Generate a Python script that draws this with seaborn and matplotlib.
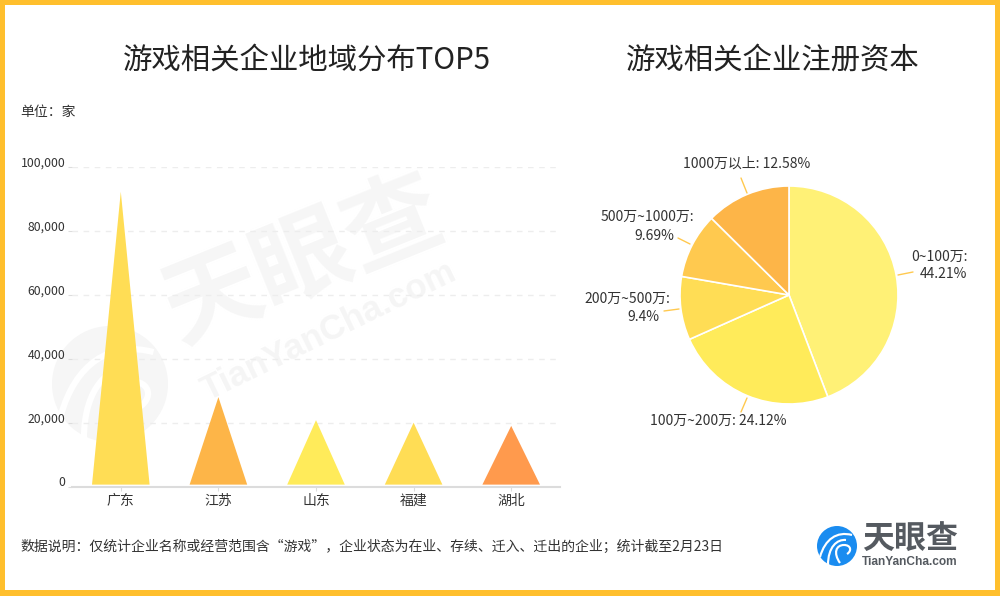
import matplotlib
matplotlib.use("Agg")
import matplotlib.pyplot as plt
import seaborn as sns
import pandas as pd
from matplotlib.patches import Polygon, Rectangle, Circle, PathPatch
from matplotlib.path import Path
from matplotlib.ticker import FuncFormatter
from matplotlib.transforms import ScaledTranslation

regions = ["广东", "江苏", "山东", "福建", "湖北"]
region_counts = [92200, 28000, 20800, 20000, 19000]
region_colors = ["#FFDD55", "#FDB548", "#FFEB5A", "#FFDD55", "#FF9A4D"]

capital_labels = ["0~100万:\n44.21%", "100万~200万: 24.12%", "200万~500万:\n9.4%",
                  "500万~1000万:\n9.69%", "1000万以上: 12.58%"]
capital_shares = [44.21, 24.12, 9.4, 9.69, 12.58]
capital_colors = ["#FFF176", "#FFEB5A", "#FFDD55", "#FFC94F", "#FDB548"]

y_ticks = [0, 20000, 40000, 60000, 80000, 100000]

sns.set_theme(style="white")
plt.rcParams["font.family"] = ["Noto Sans CJK SC", "DejaVu Sans"]
W, H = 1000, 596
fig = plt.figure(figsize=(W / 100, H / 100), dpi=100, facecolor="white")

# page overlay in pixel coordinates
bg = fig.add_axes([0, 0, 1, 1], zorder=0)
bg.set_xlim(0, W); bg.set_ylim(H, 0); bg.axis("off")
fg = fig.add_axes([0, 0, 1, 1], zorder=5)
fg.set_xlim(0, W); fg.set_ylim(H, 0); fg.axis("off"); fg.patch.set_alpha(0)


def swirl(ax, cx, cy, r, color, z=1):
    ax.add_patch(Circle((cx, cy), r, fc=color, ec="none", zorder=z))
    curves = [
        [(-0.85, 0.55), (-0.6, -0.35), (0.0, -0.75), (0.75, -0.55)],
        [(-0.45, 0.95), (-0.45, 0.05), (0.0, -0.35), (0.45, -0.30)],
        [(0.15, 0.85), (-0.20, 0.35), (-0.05, -0.05), (0.35, -0.05)],
        [(0.35, -0.05), (0.70, -0.05), (0.75, 0.25), (0.50, 0.40)],
    ]
    for c in curves:
        verts = [(cx + x * r, cy + y * r) for x, y in c]
        ax.add_patch(PathPatch(Path(verts, [Path.MOVETO, Path.CURVE4, Path.CURVE4, Path.CURVE4]),
                               fc="none", ec="white", lw=max(r / 13, 1.2), zorder=z + 0.1))


# watermark
swirl(bg, 110, 384, 58, "#F6F6F6")
bg.text(304, 262, "天眼查", fontsize=70, color="#F6F6F6", rotation=22, ha="center", va="center",
        fontweight="bold", rotation_mode="anchor")
bg.text(329, 331, "TianYanCha.com", fontsize=25, color="#F5F5F5", rotation=26, ha="center", va="center",
        fontweight="bold", rotation_mode="anchor", family=["Liberation Sans", "DejaVu Sans"])

# bar chart axes: x 72-560 px, y 0 at 486.7 px, 100000 at 166.7 px
ax = fig.add_axes([72 / W, 1 - 486.7 / H, 488 / W, 320 / H], zorder=2)
ax.patch.set_alpha(0)
df = pd.DataFrame({"region": regions, "count": region_counts})
sns.barplot(data=df, x="region", y="count", ax=ax, width=0.59, color="white", saturation=1)
for bar, col in zip(list(ax.patches), region_colors):
    x0, w, h = bar.get_x(), bar.get_width(), bar.get_height()
    bar.set_visible(False)
    ax.add_patch(Polygon([(x0, 650), (x0 + w / 2, h), (x0 + w, 650)], closed=True,
                         fc=col, ec="none", zorder=3))
ax.set_xlim(-0.5, 4.5)
ax.set_ylim(0, 100000)
ax.set_yticks(y_ticks)
ax.yaxis.set_major_formatter(FuncFormatter(lambda v, _: f"{int(v):,}"))
ax.set_xlabel(""); ax.set_ylabel("")
ax.grid(axis="y", color="#EDEDED", lw=1, ls=(0, (4, 4)))
ax.set_axisbelow(True)
for s in ["top", "right", "left"]:
    ax.spines[s].set_visible(False)
ax.spines["bottom"].set_color("#DCDCDC")
ax.spines["bottom"].set_linewidth(1.5)
ax.tick_params(axis="y", length=2.8, width=0.8, color="#DDDDDD", pad=2, labelsize=8.8, labelcolor="#333333", left=True)
ax.tick_params(axis="x", length=3, width=0.8, color="#DDDDDD", pad=2, labelsize=10, labelcolor="#333333", bottom=True)
lift = ScaledTranslation(0, 4 / 100, fig.dpi_scale_trans)
for t in ax.get_yticklabels():
    t.set_verticalalignment("center")
    t.set_transform(t.get_transform() + lift)

# pie: centre (789, 295), radius 109 px
pie_ax = fig.add_axes([(789 - 109) / W, 1 - (295 + 109) / H, 218 / W, 218 / H], zorder=2)
pie_ax.pie(capital_shares, colors=capital_colors, startangle=90, counterclock=False, radius=1,
           wedgeprops=dict(edgecolor="white", linewidth=1.2))
pie_ax.set_xlim(-1, 1); pie_ax.set_ylim(-1, 1)

label_xy = [[(940, 257), (943, 274)], [(718, 421)], [(627, 299), (643, 317)],
            [(647, 217), (654, 236)], [(747, 164)]]
leader_xy = [((898, 275), (913, 272)), ((747, 398), (741, 412)), ((679, 309), (664, 311)),
             ((690, 244), (678, 238)), ((747, 193), (741, 178))]
for lab, xys, seg in zip(capital_labels, label_xy, leader_xy):
    for line, xy in zip(lab.split("\n"), xys):
        fg.text(xy[0], xy[1], line, fontsize=10, color="#333333", ha="center", va="center")
    fg.plot([seg[0][0], seg[1][0]], [seg[0][1], seg[1][1]], color="#FFC94F", lw=1)

# titles and notes
fg.text(307, 60, "游戏相关企业地域分布TOP5", fontsize=21.2, color="#222222", ha="center", va="center")
fg.text(773, 60, "游戏相关企业注册资本", fontsize=21.2, color="#222222", ha="center", va="center")
fg.text(20, 112, "单位：家", fontsize=10, color="#333333", ha="left", va="center")
fg.text(20, 547, "数据说明：仅统计企业名称或经营范围含“游戏”，企业状态为在业、存续、迁入、迁出的企业；统计截至2月23日",
        fontsize=10, color="#333333", ha="left", va="center")

# logo
swirl(fg, 837, 546, 20, "#1A8CF0", z=3)
fg.text(910, 540, "天眼查", fontsize=23, color="#555A60", fontweight="bold", ha="center", va="center")
fg.text(910, 562, "TianYanCha.com", fontsize=8.6, color="#555A60", fontweight="bold", ha="center", va="center",
        family=["Liberation Sans", "DejaVu Sans"])

# frame
b = 5
for rect in [(0, 0, W, b), (0, H - b - 1, W, b + 1), (0, 0, b, H), (W - b, 0, b, H)]:
    fg.add_patch(Rectangle((rect[0], rect[1]), rect[2], rect[3], fc="#FFBF2D", ec="none", zorder=10))

fig.savefig("out.png", dpi=100)
